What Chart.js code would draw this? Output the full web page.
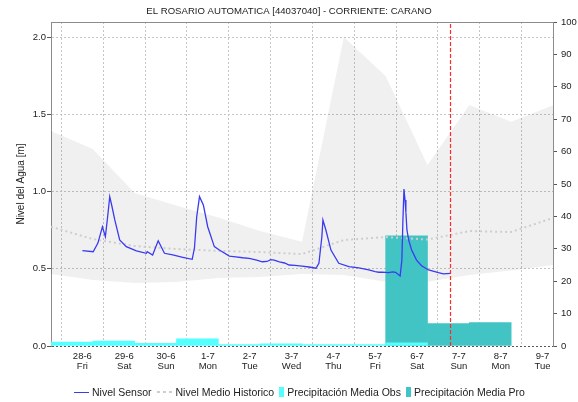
<!DOCTYPE html>
<html>
<head>
<meta charset="utf-8">
<script src="https://cdn.jsdelivr.net/npm/chart.js@4.4.1/dist/chart.umd.min.js"></script>
<style>
  html, body { margin: 0; padding: 0; background: #ffffff; }
  #wrap { position: relative; width: 578px; height: 402px; overflow: hidden; }
  #legend {
    position: absolute; left: 74px; top: 385px; height: 14px;
    display: flex; align-items: center; white-space: nowrap;
    font: 10.5px 'Liberation Sans', Arial, sans-serif; color: #222;
  }
  #legend .item { display: inline-flex; align-items: center; margin-right: 5px; }
  #legend .sw { display: inline-block; margin-right: 3px; }
</style>
</head>
<body>
<div id="wrap">
  <canvas id="chart" width="578" height="402"></canvas>
  <div id="legend"></div>
</div>
<script>
const TITLE = 'EL ROSARIO AUTOMATICA [44037040] - CORRIENTE: CARANO';
const LEVEL_AXIS_TITLE = 'Nivel del Agua [m]';

// Day ticks (value i = i days after 28-6 00:00)
const dayLabels = ['28-6', '29-6', '30-6', '1-7', '2-7', '3-7', '4-7', '5-7', '6-7', '7-7', '8-7', '9-7'];
const weekdayLabels = ['Fri', 'Sat', 'Sun', 'Mon', 'Tue', 'Wed', 'Thu', 'Fri', 'Sat', 'Sun', 'Mon', 'Tue'];

// Time window in hours relative to 28-6 00:00
const START_HOUR = -18;
const END_HOUR = 270;
const NOW_HOUR = 211.2;

// Sensor water level [m]
const sensorHours = [0, 6.2, 8.9, 11.5, 13.2, 14.6, 15.7, 16.8, 18.6, 21.4, 25.2, 31, 36.7, 37.2, 40.3, 43.5, 47.1, 51.9, 57.6, 63,
  64.3, 65.6, 67.2, 69.4, 71.9, 75.7, 78.6, 84.3, 88, 92, 95.7, 100, 103.2, 106, 108, 110, 113, 116, 118.6, 122,
  126, 130, 134, 135.7, 137.4, 138, 139.7, 142.6, 147.1, 152.9, 158.6, 164.3, 168, 170, 172, 175.7, 178, 179.7, 182.3, 183.3,
  183.9, 184.5, 185.1, 185.6, 186.2, 187.2, 188.9, 191.7, 194.6, 198.6, 204.3, 207.1, 211.2];
const sensorLevel = [0.618, 0.611, 0.667, 0.773, 0.708, 0.849, 0.968, 0.914, 0.817, 0.687, 0.644, 0.616, 0.601, 0.611, 0.590, 0.682, 0.601, 0.590, 0.575, 0.562,
  0.635, 0.838, 0.968, 0.914, 0.773, 0.644, 0.622, 0.583, 0.578, 0.572, 0.568, 0.556, 0.546, 0.548, 0.560, 0.557, 0.545, 0.538, 0.525, 0.522,
  0.518, 0.512, 0.504, 0.536, 0.708, 0.817, 0.752, 0.622, 0.536, 0.514, 0.507, 0.493, 0.482, 0.478, 0.479, 0.475, 0.480, 0.478, 0.454, 0.557,
  0.817, 1.018, 0.946, 0.868, 0.752, 0.687, 0.622, 0.557, 0.520, 0.493, 0.475, 0.467, 0.471];

// Historical level: daily nodes at 06:00
const histHours = [-18, 6, 30, 54, 78, 102, 126, 150, 174, 198, 222, 246, 270];
const histUpper = [1.393, 1.277, 0.991, 0.911, 0.833, 0.745, 0.676, 2.003, 1.750, 1.173, 1.562, 1.454, 1.560];
const histLower = [0.467, 0.428, 0.408, 0.415, 0.441, 0.447, 0.467, 0.460, 0.417, 0.417, 0.460, 0.490, 0.525];
const histMean  = [0.773, 0.693, 0.648, 0.629, 0.616, 0.609, 0.596, 0.687, 0.706, 0.690, 0.745, 0.739, 0.830];

// Daily precipitation [mm], days running 06:00 to 06:00, keyed by the day's mid point
const rainHours = [-6, 18, 42, 66, 90, 114, 138, 162, 186, 210, 234, 258];
const rainObs = [1.2, 1.5, 0.8, 2.2, 0.4, 0.7, 0.4, 0.4, 1.0, null, null, null];
const rainPro = [null, null, null, null, null, null, null, null, 34.0, 6.9, 7.2, null];

const LEVEL_MAX = 2.1;
const RAIN_MAX = 100;

const FONT_FAMILY = "'Liberation Sans', Arial, sans-serif";
const TEXT_COLOR = '#222222';
const AXIS_COLOR = '#8c8c8c';
const GRID_COLOR = '#c6c6c6';

const toDay = h => h / 24;
const toXY = (hours, values) => hours.map((h, i) => ({ x: toDay(h), y: values[i] }));
const fixedWidth = w => scale => { scale.width = w; };
const fixedHeight = h => scale => { scale.height = h; };

const chart = new Chart(document.getElementById('chart'), {
  type: 'line',
  data: {
    datasets: [
      {
        label: 'Rango Historico',
        data: toXY(histHours, histUpper),
        yAxisID: 'y',
        borderWidth: 0,
        pointRadius: 0,
        fill: '+1',
        backgroundColor: 'rgba(0,0,0,0.058)',
        order: 10
      },
      {
        label: 'Rango Historico (min)',
        data: toXY(histHours, histLower),
        yAxisID: 'y',
        borderWidth: 0,
        pointRadius: 0,
        fill: false,
        order: 10
      },
      {
        type: 'bar',
        label: 'Precipitación Media Pro',
        data: toXY(rainHours, rainPro),
        yAxisID: 'yR',
        backgroundColor: '#43c4c4',
        borderWidth: 0,
        grouped: false,
        barPercentage: 1,
        categoryPercentage: 1,
        swatch: 'box',
        order: 8
      },
      {
        type: 'bar',
        label: 'Precipitación Media Obs',
        data: toXY(rainHours, rainObs),
        yAxisID: 'yR',
        backgroundColor: '#55ffff',
        borderWidth: 0,
        grouped: false,
        barPercentage: 1,
        categoryPercentage: 1,
        swatch: 'box',
        order: 7
      },
      {
        label: 'Nivel Medio Historico',
        data: toXY(histHours, histMean),
        yAxisID: 'y',
        borderColor: '#cdcdcd',
        borderWidth: 2,
        borderDash: [2, 3],
        pointRadius: 0,
        fill: false,
        swatch: 'dash',
        order: 5
      },
      {
        label: 'Nivel Sensor',
        data: toXY(sensorHours, sensorLevel),
        yAxisID: 'y',
        borderColor: '#3a3af2',
        borderWidth: 1.3,
        pointRadius: 0,
        fill: false,
        swatch: 'line',
        order: 2
      },
      {
        label: 'Hora actual',
        data: [{ x: toDay(NOW_HOUR), y: 0 }, { x: toDay(NOW_HOUR), y: LEVEL_MAX }],
        yAxisID: 'y',
        borderColor: '#ff2b2b',
        borderWidth: 1.2,
        borderDash: [4, 2],
        pointRadius: 0,
        fill: false,
        order: 1
      }
    ]
  },
  options: {
    responsive: false,
    devicePixelRatio: 1,
    animation: false,
    events: [],
    layout: { padding: 0 },
    plugins: {
      legend: { display: false },
      tooltip: { enabled: false },
      title: {
        display: true,
        text: TITLE,
        color: TEXT_COLOR,
        font: { family: FONT_FAMILY, size: 9.6, weight: 'normal', lineHeight: 1.25 },
        padding: { top: 5, bottom: 5 }
      }
    },
    scales: {
      x: {
        type: 'linear',
        position: 'bottom',
        min: toDay(START_HOUR),
        max: toDay(END_HOUR),
        offset: false,
        afterBuildTicks: scale => { scale.ticks = dayLabels.map((_, i) => ({ value: i })); },
        ticks: {
          autoSkip: false,
          maxRotation: 0,
          padding: 5,
          color: TEXT_COLOR,
          font: { family: FONT_FAMILY, size: 9.5, lineHeight: 1.05 },
          callback: value => {
            const i = Math.round(value);
            return [dayLabels[i], weekdayLabels[i]];
          }
        },
        grid: { color: GRID_COLOR, drawTicks: false },
        border: { display: false, dash: [2, 2] },
        afterFit: fixedHeight(56)
      },
      xTop: {
        type: 'linear',
        position: 'top',
        min: toDay(START_HOUR),
        max: toDay(END_HOUR),
        ticks: { display: false },
        grid: { drawOnChartArea: false, drawTicks: false },
        border: { color: AXIS_COLOR },
        afterFit: fixedHeight(0)
      },
      y: {
        position: 'left',
        min: 0,
        max: LEVEL_MAX,
        ticks: {
          stepSize: 0.5,
          includeBounds: false,
          padding: 1,
          color: TEXT_COLOR,
          font: { family: FONT_FAMILY, size: 9.5 },
          callback: v => v.toFixed(1)
        },
        grid: {
          color: c => (c.tick && c.tick.value === 0 ? '#555555' : GRID_COLOR),
          tickLength: 4,
          tickColor: '#555555',
          tickBorderDash: []
        },
        border: { color: AXIS_COLOR, dash: [2, 2] },
        title: {
          display: true,
          text: LEVEL_AXIS_TITLE,
          color: TEXT_COLOR,
          font: { family: FONT_FAMILY, size: 10 },
          padding: { top: 15, bottom: 0 }
        },
        afterFit: fixedWidth(51)
      },
      yR: {
        position: 'right',
        min: 0,
        max: RAIN_MAX,
        ticks: {
          stepSize: 10,
          padding: 4,
          color: TEXT_COLOR,
          font: { family: FONT_FAMILY, size: 9.5 }
        },
        grid: { drawOnChartArea: false, tickLength: 4, tickColor: '#555555' },
        border: { color: AXIS_COLOR },
        afterFit: fixedWidth(25)
      }
    }
  }
});

// Legend row built from the chart's own datasets
const legendOrder = ['Nivel Sensor', 'Nivel Medio Historico', 'Precipitación Media Obs', 'Precipitación Media Pro'];
const legendEl = document.getElementById('legend');
legendOrder.forEach(name => {
  const ds = chart.data.datasets.find(d => d.label === name);
  const item = document.createElement('span');
  item.className = 'item';
  const sw = document.createElement('span');
  sw.className = 'sw';
  if (ds.swatch === 'line') {
    sw.style.cssText = 'width:15px;height:0;border-top:1.5px solid ' + ds.borderColor + ';';
  } else if (ds.swatch === 'dash') {
    sw.style.cssText = 'width:16px;height:2px;background:repeating-linear-gradient(to right,' +
      ds.borderColor + ' 0 3px, transparent 3px 6px);';
  } else {
    sw.style.cssText = 'width:5px;height:10px;background:' + ds.backgroundColor + ';';
  }
  item.appendChild(sw);
  item.appendChild(document.createTextNode(ds.label));
  legendEl.appendChild(item);
});
</script>
</body>
</html>
